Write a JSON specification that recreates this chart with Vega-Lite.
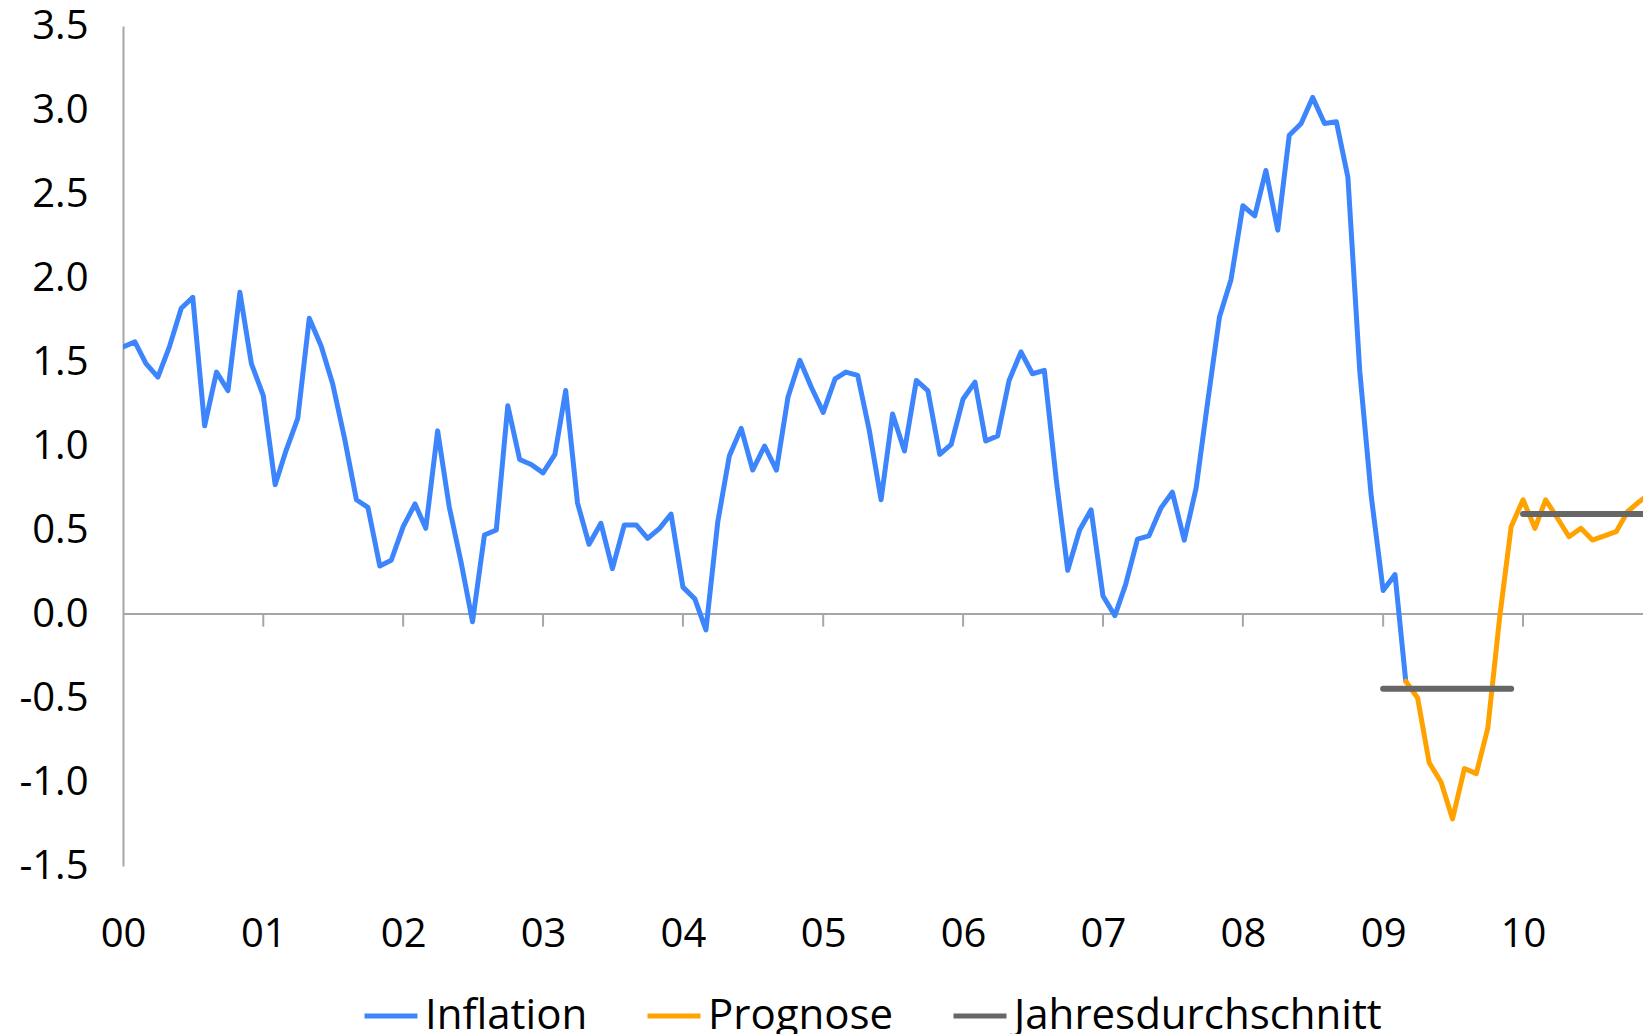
{
  "$schema": "https://vega.github.io/schema/vega-lite/v6.json",
  "width": 1520,
  "height": 840,
  "autosize": {"type": "none"},
  "padding": {"left": 123, "top": 26, "right": 0, "bottom": 168},
  "background": "white",
  "config": {"view": {"stroke": null}, "font": "Open Sans", "line": {"strokeWidth": 5}},
  "datasets": {
    "infl": [
      {"date": "2000-01-01", "value": 1.59, "series": "Inflation"},
      {"date": "2000-02-01", "value": 1.62, "series": "Inflation"},
      {"date": "2000-03-01", "value": 1.49, "series": "Inflation"},
      {"date": "2000-04-01", "value": 1.41, "series": "Inflation"},
      {"date": "2000-05-01", "value": 1.59, "series": "Inflation"},
      {"date": "2000-06-01", "value": 1.82, "series": "Inflation"},
      {"date": "2000-07-01", "value": 1.885, "series": "Inflation"},
      {"date": "2000-08-01", "value": 1.12, "series": "Inflation"},
      {"date": "2000-09-01", "value": 1.44, "series": "Inflation"},
      {"date": "2000-10-01", "value": 1.33, "series": "Inflation"},
      {"date": "2000-11-01", "value": 1.915, "series": "Inflation"},
      {"date": "2000-12-01", "value": 1.49, "series": "Inflation"},
      {"date": "2001-01-01", "value": 1.30, "series": "Inflation"},
      {"date": "2001-02-01", "value": 0.77, "series": "Inflation"},
      {"date": "2001-03-01", "value": 0.97, "series": "Inflation"},
      {"date": "2001-04-01", "value": 1.165, "series": "Inflation"},
      {"date": "2001-05-01", "value": 1.76, "series": "Inflation"},
      {"date": "2001-06-01", "value": 1.595, "series": "Inflation"},
      {"date": "2001-07-01", "value": 1.37, "series": "Inflation"},
      {"date": "2001-08-01", "value": 1.046, "series": "Inflation"},
      {"date": "2001-09-01", "value": 0.68, "series": "Inflation"},
      {"date": "2001-10-01", "value": 0.635, "series": "Inflation"},
      {"date": "2001-11-01", "value": 0.286, "series": "Inflation"},
      {"date": "2001-12-01", "value": 0.32, "series": "Inflation"},
      {"date": "2002-01-01", "value": 0.52, "series": "Inflation"},
      {"date": "2002-02-01", "value": 0.655, "series": "Inflation"},
      {"date": "2002-03-01", "value": 0.51, "series": "Inflation"},
      {"date": "2002-04-01", "value": 1.09, "series": "Inflation"},
      {"date": "2002-05-01", "value": 0.64, "series": "Inflation"},
      {"date": "2002-06-01", "value": 0.31, "series": "Inflation"},
      {"date": "2002-07-01", "value": -0.046, "series": "Inflation"},
      {"date": "2002-08-01", "value": 0.47, "series": "Inflation"},
      {"date": "2002-09-01", "value": 0.50, "series": "Inflation"},
      {"date": "2002-10-01", "value": 1.24, "series": "Inflation"},
      {"date": "2002-11-01", "value": 0.92, "series": "Inflation"},
      {"date": "2002-12-01", "value": 0.89, "series": "Inflation"},
      {"date": "2003-01-01", "value": 0.84, "series": "Inflation"},
      {"date": "2003-02-01", "value": 0.95, "series": "Inflation"},
      {"date": "2003-03-01", "value": 1.33, "series": "Inflation"},
      {"date": "2003-04-01", "value": 0.66, "series": "Inflation"},
      {"date": "2003-05-01", "value": 0.415, "series": "Inflation"},
      {"date": "2003-06-01", "value": 0.54, "series": "Inflation"},
      {"date": "2003-07-01", "value": 0.27, "series": "Inflation"},
      {"date": "2003-08-01", "value": 0.53, "series": "Inflation"},
      {"date": "2003-09-01", "value": 0.53, "series": "Inflation"},
      {"date": "2003-10-01", "value": 0.45, "series": "Inflation"},
      {"date": "2003-11-01", "value": 0.51, "series": "Inflation"},
      {"date": "2003-12-01", "value": 0.595, "series": "Inflation"},
      {"date": "2004-01-01", "value": 0.16, "series": "Inflation"},
      {"date": "2004-02-01", "value": 0.09, "series": "Inflation"},
      {"date": "2004-03-01", "value": -0.095, "series": "Inflation"},
      {"date": "2004-04-01", "value": 0.55, "series": "Inflation"},
      {"date": "2004-05-01", "value": 0.94, "series": "Inflation"},
      {"date": "2004-06-01", "value": 1.105, "series": "Inflation"},
      {"date": "2004-07-01", "value": 0.857, "series": "Inflation"},
      {"date": "2004-08-01", "value": 1.0, "series": "Inflation"},
      {"date": "2004-09-01", "value": 0.857, "series": "Inflation"},
      {"date": "2004-10-01", "value": 1.29, "series": "Inflation"},
      {"date": "2004-11-01", "value": 1.51, "series": "Inflation"},
      {"date": "2004-12-01", "value": 1.35, "series": "Inflation"},
      {"date": "2005-01-01", "value": 1.20, "series": "Inflation"},
      {"date": "2005-02-01", "value": 1.40, "series": "Inflation"},
      {"date": "2005-03-01", "value": 1.44, "series": "Inflation"},
      {"date": "2005-04-01", "value": 1.42, "series": "Inflation"},
      {"date": "2005-05-01", "value": 1.095, "series": "Inflation"},
      {"date": "2005-06-01", "value": 0.68, "series": "Inflation"},
      {"date": "2005-07-01", "value": 1.19, "series": "Inflation"},
      {"date": "2005-08-01", "value": 0.97, "series": "Inflation"},
      {"date": "2005-09-01", "value": 1.39, "series": "Inflation"},
      {"date": "2005-10-01", "value": 1.33, "series": "Inflation"},
      {"date": "2005-11-01", "value": 0.95, "series": "Inflation"},
      {"date": "2005-12-01", "value": 1.01, "series": "Inflation"},
      {"date": "2006-01-01", "value": 1.28, "series": "Inflation"},
      {"date": "2006-02-01", "value": 1.38, "series": "Inflation"},
      {"date": "2006-03-01", "value": 1.03, "series": "Inflation"},
      {"date": "2006-04-01", "value": 1.06, "series": "Inflation"},
      {"date": "2006-05-01", "value": 1.39, "series": "Inflation"},
      {"date": "2006-06-01", "value": 1.56, "series": "Inflation"},
      {"date": "2006-07-01", "value": 1.43, "series": "Inflation"},
      {"date": "2006-08-01", "value": 1.45, "series": "Inflation"},
      {"date": "2006-09-01", "value": 0.80, "series": "Inflation"},
      {"date": "2006-10-01", "value": 0.26, "series": "Inflation"},
      {"date": "2006-11-01", "value": 0.50, "series": "Inflation"},
      {"date": "2006-12-01", "value": 0.62, "series": "Inflation"},
      {"date": "2007-01-01", "value": 0.107, "series": "Inflation"},
      {"date": "2007-02-01", "value": -0.01, "series": "Inflation"},
      {"date": "2007-03-01", "value": 0.175, "series": "Inflation"},
      {"date": "2007-04-01", "value": 0.446, "series": "Inflation"},
      {"date": "2007-05-01", "value": 0.465, "series": "Inflation"},
      {"date": "2007-06-01", "value": 0.63, "series": "Inflation"},
      {"date": "2007-07-01", "value": 0.725, "series": "Inflation"},
      {"date": "2007-08-01", "value": 0.44, "series": "Inflation"},
      {"date": "2007-09-01", "value": 0.75, "series": "Inflation"},
      {"date": "2007-10-01", "value": 1.26, "series": "Inflation"},
      {"date": "2007-11-01", "value": 1.77, "series": "Inflation"},
      {"date": "2007-12-01", "value": 1.99, "series": "Inflation"},
      {"date": "2008-01-01", "value": 2.43, "series": "Inflation"},
      {"date": "2008-02-01", "value": 2.37, "series": "Inflation"},
      {"date": "2008-03-01", "value": 2.64, "series": "Inflation"},
      {"date": "2008-04-01", "value": 2.285, "series": "Inflation"},
      {"date": "2008-05-01", "value": 2.85, "series": "Inflation"},
      {"date": "2008-06-01", "value": 2.92, "series": "Inflation"},
      {"date": "2008-07-01", "value": 3.075, "series": "Inflation"},
      {"date": "2008-08-01", "value": 2.92, "series": "Inflation"},
      {"date": "2008-09-01", "value": 2.93, "series": "Inflation"},
      {"date": "2008-10-01", "value": 2.60, "series": "Inflation"},
      {"date": "2008-11-01", "value": 1.445, "series": "Inflation"},
      {"date": "2008-12-01", "value": 0.70, "series": "Inflation"},
      {"date": "2009-01-01", "value": 0.14, "series": "Inflation"},
      {"date": "2009-02-01", "value": 0.235, "series": "Inflation"},
      {"date": "2009-03-01", "value": -0.40, "series": "Inflation"},
      {"date": "2009-03-01", "value": -0.40, "series": "Prognose"},
      {"date": "2009-04-01", "value": -0.50, "series": "Prognose"},
      {"date": "2009-05-01", "value": -0.885, "series": "Prognose"},
      {"date": "2009-06-01", "value": -1.0, "series": "Prognose"},
      {"date": "2009-07-01", "value": -1.22, "series": "Prognose"},
      {"date": "2009-08-01", "value": -0.92, "series": "Prognose"},
      {"date": "2009-09-01", "value": -0.95, "series": "Prognose"},
      {"date": "2009-10-01", "value": -0.68, "series": "Prognose"},
      {"date": "2009-11-01", "value": -0.02, "series": "Prognose"},
      {"date": "2009-12-01", "value": 0.52, "series": "Prognose"},
      {"date": "2010-01-01", "value": 0.68, "series": "Prognose"},
      {"date": "2010-02-01", "value": 0.51, "series": "Prognose"},
      {"date": "2010-03-01", "value": 0.68, "series": "Prognose"},
      {"date": "2010-04-01", "value": 0.57, "series": "Prognose"},
      {"date": "2010-05-01", "value": 0.46, "series": "Prognose"},
      {"date": "2010-06-01", "value": 0.51, "series": "Prognose"},
      {"date": "2010-07-01", "value": 0.44, "series": "Prognose"},
      {"date": "2010-08-01", "value": 0.465, "series": "Prognose"},
      {"date": "2010-09-01", "value": 0.49, "series": "Prognose"},
      {"date": "2010-10-01", "value": 0.61, "series": "Prognose"},
      {"date": "2010-11-01", "value": 0.67, "series": "Prognose"},
      {"date": "2010-12-01", "value": 0.72, "series": "Prognose"}
    ],
    "avg": [
      {"date": "2009-01-01", "value": -0.445, "series": "Jahresdurchschnitt", "year": 2009},
      {"date": "2009-12-01", "value": -0.445, "series": "Jahresdurchschnitt", "year": 2009},
      {"date": "2010-01-01", "value": 0.595, "series": "Jahresdurchschnitt", "year": 2010},
      {"date": "2010-12-01", "value": 0.595, "series": "Jahresdurchschnitt", "year": 2010}
    ],
    "ticks": [
      {"date": "2001-01-01"}, {"date": "2002-01-01"}, {"date": "2003-01-01"},
      {"date": "2004-01-01"}, {"date": "2005-01-01"}, {"date": "2006-01-01"},
      {"date": "2007-01-01"}, {"date": "2008-01-01"}, {"date": "2009-01-01"},
      {"date": "2010-01-01"}
    ],
    "zero": [{"v": 0}]
  },
  "layer": [
    {
      "data": {"name": "zero"},
      "mark": {"type": "rule", "color": "#a6a6a6", "strokeWidth": 2},
      "encoding": {"y": {"field": "v", "type": "quantitative"}}
    },
    {
      "data": {"name": "ticks"},
      "mark": {"type": "rule", "color": "#a6a6a6", "strokeWidth": 2},
      "encoding": {
        "x": {"field": "date", "type": "temporal"},
        "y": {"datum": 0},
        "y2": {"datum": -0.075}
      }
    },
    {
      "data": {"name": "infl"},
      "mark": {"type": "line", "strokeWidth": 5, "strokeJoin": "round", "strokeCap": "round", "clip": true},
      "encoding": {
        "x": {
          "field": "date",
          "type": "temporal",
          "scale": {"domain": [946684800000, 1289347200000]},
          "axis": {
            "title": null,
            "domain": false,
            "ticks": false,
            "grid": false,
            "format": "%y",
            "tickCount": "year",
            "labelFlush": false,
            "labelOverlap": false,
            "labelFont": "Open Sans",
            "labelFontSize": 40,
            "labelColor": "#000000",
            "labelPadding": 48
          }
        },
        "y": {
          "field": "value",
          "type": "quantitative",
          "scale": {"domain": [-1.5, 3.5], "nice": false, "zero": false},
          "axis": {
            "title": null,
            "values": [-1.5, -1, -0.5, 0, 0.5, 1, 1.5, 2, 2.5, 3, 3.5],
            "labelExpr": "(datum.value < 0 ? '-' : '') + format(abs(datum.value), '.1f')",
            "domain": true,
            "domainColor": "#a6a6a6",
            "domainWidth": 2,
            "ticks": false,
            "grid": false,
            "labelFont": "Open Sans",
            "labelFontSize": 40,
            "labelColor": "#000000",
            "labelPadding": 35
          }
        },
        "color": {
          "field": "series",
          "type": "nominal",
          "scale": {
            "domain": ["Inflation", "Prognose", "Jahresdurchschnitt"],
            "range": ["#3d85fc", "#ffa200", "#666666"]
          },
          "legend": {
            "title": null,
            "orient": "none",
            "legendX": 239,
            "legendY": 961,
            "direction": "horizontal",
            "symbolType": "stroke",
            "symbolSize": 2809,
            "symbolStrokeWidth": 5.5,
            "labelFont": "Open Sans",
            "labelFontSize": 42,
            "labelColor": "#000000",
            "labelLimit": 0,
            "labelOffset": 5,
            "columnPadding": 49,
            "padding": 0
          }
        },
        "strokeWidth": {"value": 5}
      }
    },
    {
      "data": {"name": "avg"},
      "mark": {"type": "line", "strokeWidth": 6, "strokeCap": "round", "clip": true},
      "encoding": {
        "x": {"field": "date", "type": "temporal"},
        "y": {"field": "value", "type": "quantitative"},
        "color": {"field": "series", "type": "nominal"},
        "detail": {"field": "year", "type": "ordinal"}
      }
    }
  ]
}
